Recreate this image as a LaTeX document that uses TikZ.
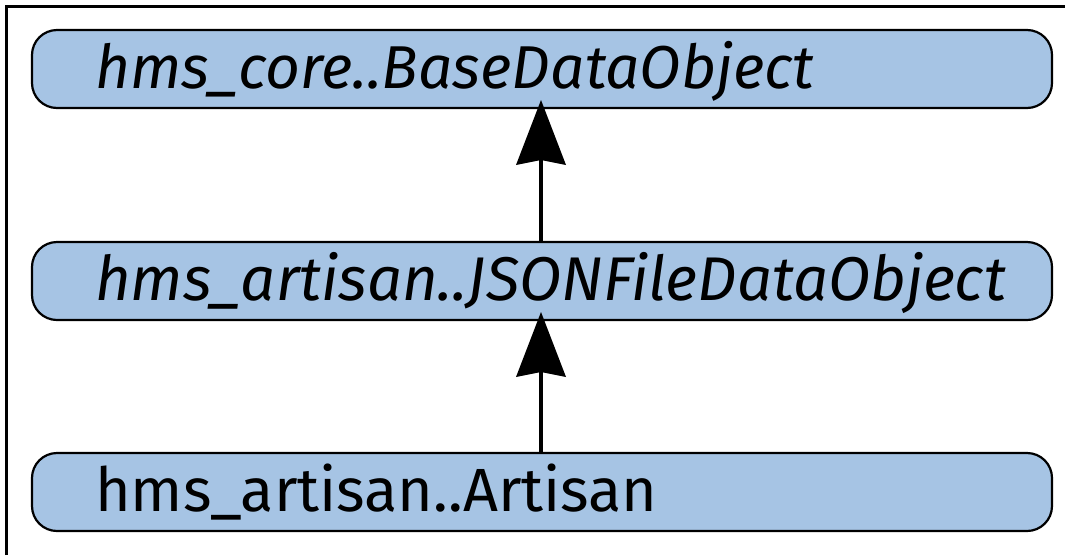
\documentclass[tikz,border=0pt]{standalone}
\usepackage{fontspec}
\setmainfont{Fira Sans}
\usetikzlibrary{arrows.meta}
\definecolor{clsfill}{RGB}{166,196,228}
\tikzset{
  cls/.style={draw=black, line width=2.2pt, fill=clsfill, rounded corners=25pt,
    minimum height=78pt, text width=894pt, inner xsep=63pt, inner ysep=0pt,
    text height=48pt, text depth=10pt, align=left,
    font=\fontsize{61}{61}\selectfont},
  inh/.style={line width=4.5pt, -{Stealth[length=65pt, width=50pt, inset=5pt, line width=0pt]}}
}
\begin{document}
\begin{tikzpicture}[x=1pt, y=-1pt]
\useasboundingbox (0,0) rectangle (1065,555);
\draw[line width=3pt] (6,555) -- (6,6) -- (1065,6);
\node[cls] (base) at (542,69) {\makebox[0pt][l]{\fontsize{60.5}{61}\selectfont\itshape hms\_core..BaseDataObject}};
\node[cls] (json) at (542,281) {\makebox[0pt][l]{\fontsize{61.7}{62}\selectfont\itshape hms\_artisan..JSONFileDataObject}};
\node[cls] (art) at (542,492) {\makebox[0pt][l]{hms\_artisan..Artisan}};
\coordinate (t1) at (541,100);
\coordinate (t2) at (541,312);
\draw[inh] (json.north -| t1) -- (t1);
\draw[inh] (art.north -| t2) -- (t2);
\end{tikzpicture}
\end{document}
